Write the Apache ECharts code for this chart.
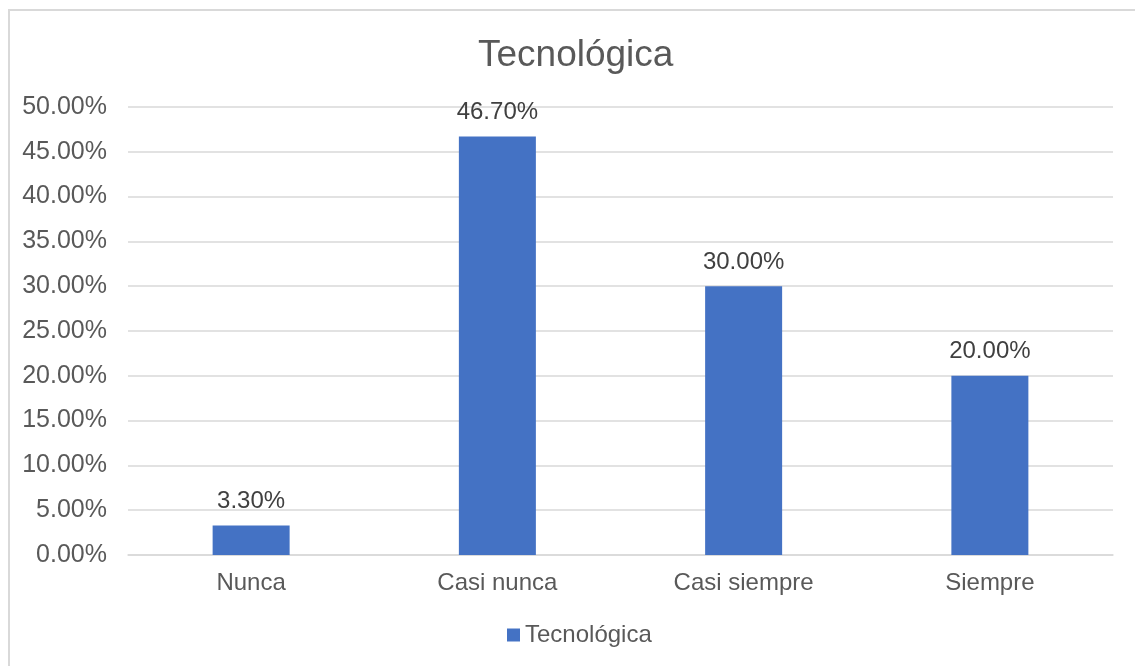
<!DOCTYPE html>
<html>
<head>
<meta charset="utf-8">
<script src="https://cdn.jsdelivr.net/npm/echarts@6/dist/echarts.min.js"></script>
<style>
    html, body { margin: 0; padding: 0; background: #fff; }
    #chart { width: 1135px; height: 666px; }
</style>
</head>
<body>
<div id="chart"></div>
<script>
    var categories = ['Nunca', 'Casi nunca', 'Casi siempre', 'Siempre'];
    var values = [3.3, 46.7, 30.0, 20.0];
    var seriesName = 'Tecnológica';
    var yMin = 0, yMax = 50, yStep = 5;

    var font = 'Arial, "Liberation Sans", sans-serif';
    var chart = echarts.init(document.getElementById('chart'));
    chart.setOption({
        animation: false,
        graphic: [{
            type: 'rect',
            shape: { x: 9, y: 10, width: 1200, height: 700 },
            style: { fill: 'none', stroke: '#d9d9d9', lineWidth: 2 },
            silent: true
        }],
        title: {
            text: seriesName,
            left: 473,
            top: 32,
            textStyle: { fontFamily: font, fontSize: 37, fontWeight: 'normal', color: '#595959' }
        },
        legend: {
            bottom: 14,
            left: 502,
            icon: 'rect',
            itemWidth: 13,
            itemHeight: 13,
            itemGap: 4,
            textStyle: { fontFamily: font, fontSize: 24, color: '#595959', padding: [0, 0, 0, 0] },
            data: [seriesName]
        },
        grid: { left: 128, right: 22, top: 107, bottom: 111 },
        xAxis: {
            type: 'category',
            data: categories,
            axisLine: { lineStyle: { color: '#d9d9d9', width: 1.5 } },
            axisTick: { show: false },
            axisLabel: { fontFamily: font, fontSize: 24, color: '#595959', margin: 16 }
        },
        yAxis: {
            type: 'value',
            min: yMin,
            max: yMax,
            interval: yStep,
            axisLine: { show: false },
            axisTick: { show: false },
            splitLine: { lineStyle: { color: '#d9d9d9', width: 1.5 } },
            axisLabel: {
                fontFamily: font, fontSize: 25, color: '#595959', margin: 21,
                formatter: function (v) { return v.toFixed(2) + '%'; }
            }
        },
        series: [{
            name: seriesName,
            type: 'bar',
            data: values,
            barWidth: 77,
            itemStyle: { color: '#4472c4' },
            label: {
                show: true,
                position: 'top',
                distance: 12,
                fontFamily: font,
                fontSize: 24,
                color: '#404040',
                formatter: function (p) { return p.value.toFixed(2) + '%'; }
            }
        }]
    });
</script>
</body>
</html>
